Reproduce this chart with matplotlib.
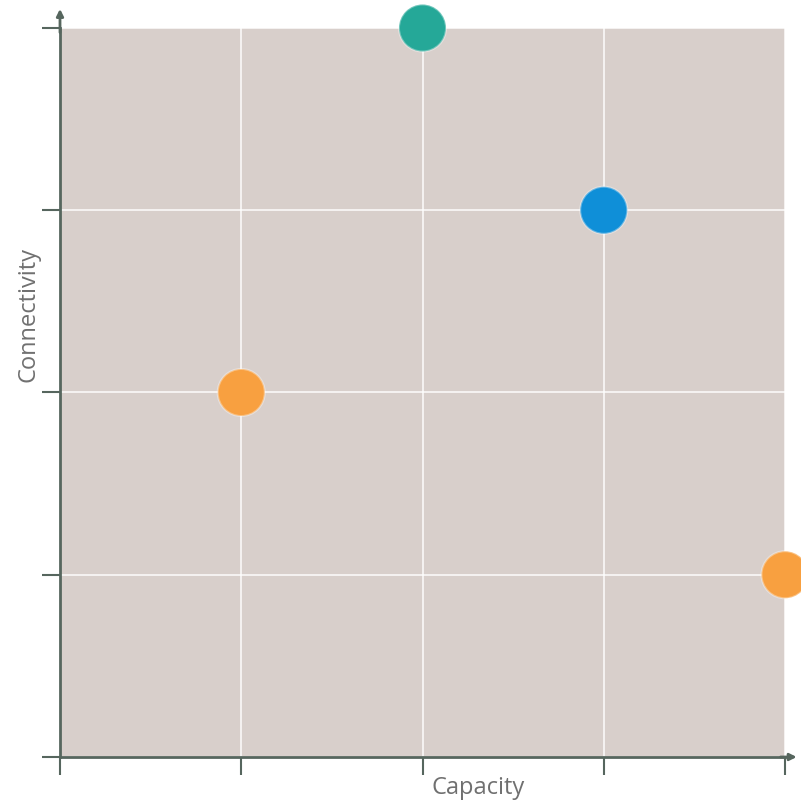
import matplotlib.pyplot as plt

# data
capacity = [2, 3, 1, 4]
connectivity = [4, 3, 2, 1]
colors = ['#25a898', '#0f8fd8', '#f8a040', '#f8a040']
ticks = [0, 1, 2, 3, 4]

axis_color = '#56665e'

fig = plt.figure(figsize=(8.01, 8.07), dpi=100)
ax = fig.add_axes([60 / 801, 50 / 807, 725 / 801, 729 / 807])
ax.set_facecolor('#d8cfcb')

ax.scatter(capacity, connectivity, s=1150, c=colors, edgecolors=(1, 1, 1, 0.35),
           linewidths=1.5, zorder=3, clip_on=False)

ax.set_xlim(0, 4)
ax.set_ylim(0, 4)
ax.set_xticks(ticks)
ax.set_yticks(ticks)
ax.set_xticklabels([])
ax.set_yticklabels([])
ax.tick_params(direction='out', length=13, width=1.5, color=axis_color)
ax.grid(True, color='white', linewidth=1.3, alpha=0.8)
ax.set_axisbelow(True)

for side in ['top', 'right']:
    ax.spines[side].set_visible(False)
for side in ['left', 'bottom']:
    ax.spines[side].set_color(axis_color)
    ax.spines[side].set_linewidth(2)

# arrow heads at the axis ends
ax.annotate('', xy=(0, 1.03), xytext=(0, 0.99), xycoords='axes fraction',
            arrowprops=dict(arrowstyle='-|>', color=axis_color, lw=2, mutation_scale=10))
ax.annotate('', xy=(1.02, 0), xytext=(0.99, 0), xycoords='axes fraction',
            arrowprops=dict(arrowstyle='-|>', color=axis_color, lw=2, mutation_scale=10),
            annotation_clip=False)

# axis titles placed by hand, close to the ticks as in the reference
fig.text(478 / 801, 1 - 788 / 807, 'Capacity', fontsize=17, color='#707070',
         family='Open Sans', ha='center', va='center')
fig.text(28 / 801, 1 - 314 / 807, 'Connectivity', fontsize=17, color='#707070',
         family='Open Sans', ha='center', va='center', rotation=90)

fig.savefig('out.png', dpi=100)
